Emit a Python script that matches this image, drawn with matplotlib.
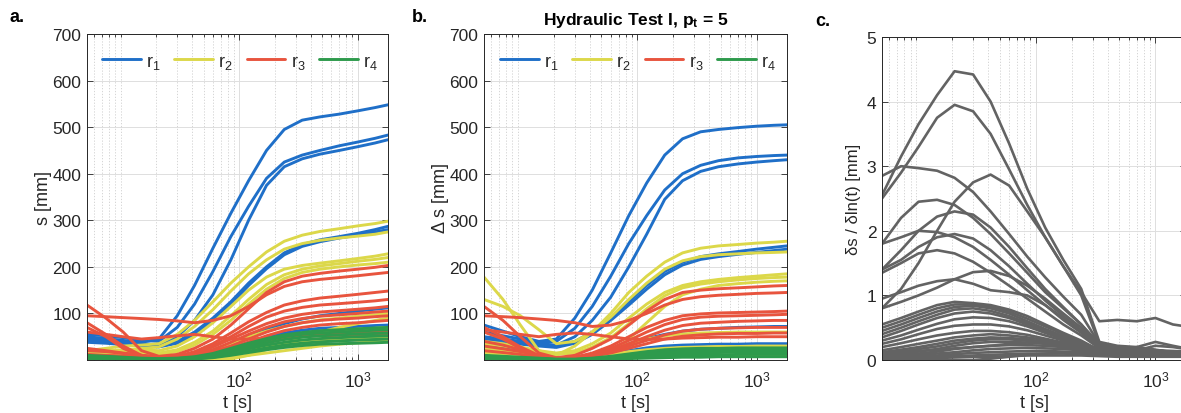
import matplotlib
matplotlib.use("Agg")
import matplotlib.pyplot as plt
from matplotlib.ticker import FixedLocator, NullFormatter, LogLocator

plt.rcParams['font.family'] = ['Liberation Sans', 'DejaVu Sans']
plt.rcParams['mathtext.fontset'] = 'custom'
plt.rcParams['mathtext.rm'] = 'Liberation Sans'
plt.rcParams['mathtext.it'] = 'Liberation Sans:italic'
plt.rcParams['mathtext.bf'] = 'Liberation Sans:bold'

# time samples [s]
t = [5.2, 7.5, 10.5, 15, 21, 30, 42, 60, 85, 120, 170, 240, 340, 480, 700, 1000, 1400, 1800]

# ---- drawdown s [mm], grouped by radial distance ----
s_r1 = [
    [50, 46, 42, 38, 45, 95, 160, 240, 315, 385, 450, 495, 515, 522, 528, 535, 542, 548],
    [55, 52, 48, 42, 40, 70, 120, 190, 265, 330, 390, 425, 440, 450, 460, 468, 476, 483],
    [45, 43, 40, 35, 32, 50, 85, 140, 215, 300, 375, 415, 432, 442, 450, 458, 466, 473],
    [42, 40, 37, 33, 30, 40, 60, 90, 125, 165, 200, 230, 248, 258, 265, 272, 280, 287],
    [38, 36, 33, 30, 28, 36, 55, 85, 120, 160, 196, 226, 244, 254, 262, 268, 275, 280],
    [12, 10, 8, 6, 5, 6, 12, 22, 35, 50, 65, 78, 88, 95, 100, 105, 109, 112],
    [8, 7, 6, 4, 3, 4, 8, 15, 25, 38, 50, 58, 64, 68, 70, 72, 74, 75],
    [5, 4, 3, 2, 2, 3, 5, 10, 16, 22, 28, 33, 37, 40, 42, 43, 44, 45],
]
s_r2 = [
    [20, 25, 30, 32, 35, 55, 85, 125, 165, 200, 232, 255, 268, 276, 282, 288, 293, 298],
    [18, 20, 22, 25, 28, 45, 72, 108, 148, 185, 215, 238, 250, 257, 262, 266, 270, 275],
    [15, 17, 20, 22, 20, 30, 50, 80, 115, 150, 178, 195, 203, 208, 213, 218, 223, 228],
    [14, 15, 16, 17, 15, 22, 38, 62, 95, 130, 162, 183, 195, 202, 207, 212, 216, 220],
    [10, 12, 14, 15, 12, 18, 32, 55, 85, 120, 152, 175, 188, 195, 200, 204, 207, 210],
    [8, 9, 10, 8, 5, 6, 12, 22, 35, 50, 62, 72, 80, 86, 90, 94, 97, 100],
    [0, 0, 0, 0, 0, 0, 0, 0, 2, 10, 22, 36, 50, 60, 70, 78, 85, 90],
    [6, 6, 5, 4, 3, 4, 8, 15, 25, 35, 45, 52, 57, 61, 64, 66, 68, 70],
    [4, 4, 3, 2, 1, 2, 4, 8, 14, 20, 27, 33, 38, 42, 45, 47, 49, 50],
    [3, 3, 2, 1, 0, 0, 1, 3, 6, 10, 15, 20, 25, 30, 34, 37, 39, 40],
]
s_r3 = [
    [118, 90, 60, 20, 8, 12, 25, 45, 75, 110, 145, 168, 180, 186, 191, 195, 199, 203],
    [95, 93, 91, 89, 87, 84, 80, 85, 95, 115, 140, 158, 168, 173, 177, 181, 185, 188],
    [80, 55, 30, 10, 5, 8, 18, 35, 58, 82, 102, 118, 127, 133, 137, 141, 145, 148],
    [70, 50, 25, 8, 4, 6, 15, 30, 50, 72, 92, 105, 113, 118, 121, 124, 127, 130],
    [25, 20, 15, 10, 6, 8, 15, 28, 45, 62, 78, 90, 98, 103, 106, 109, 112, 115],
    [20, 18, 14, 10, 6, 7, 12, 22, 38, 55, 70, 82, 89, 94, 97, 100, 103, 105],
    [12, 10, 8, 6, 4, 5, 10, 18, 30, 45, 60, 72, 80, 85, 88, 90, 93, 95],
    [10, 9, 8, 6, 4, 4, 8, 15, 26, 38, 52, 63, 70, 75, 78, 80, 83, 85],
    [8, 7, 6, 4, 3, 3, 5, 10, 18, 27, 37, 45, 51, 55, 58, 60, 61, 62],
    [60, 55, 50, 45, 48, 52, 55, 50, 45, 45, 47, 49, 51, 52, 53, 54, 55, 55],
]
s_r4 = [
    [8, 7, 5, 3, 2, 3, 6, 12, 22, 32, 42, 50, 55, 58, 60, 62, 64, 65],
    [6, 5, 4, 2, 1, 2, 5, 10, 18, 28, 37, 44, 49, 52, 54, 56, 57, 58],
    [5, 4, 3, 2, 1, 2, 4, 8, 15, 24, 32, 38, 43, 46, 48, 50, 51, 52],
    [4, 3, 2, 1, 1, 1, 3, 6, 12, 19, 26, 32, 36, 39, 41, 43, 44, 45],
    [3, 3, 2, 1, 0, 1, 2, 5, 10, 16, 22, 27, 31, 34, 35, 36, 37, 38],
    [10, 8, 6, 4, 3, 4, 7, 14, 25, 36, 46, 54, 59, 63, 65, 67, 69, 70],
]

# ---- corrected drawdown delta s [mm] ----
ds_r1 = [
    [75, 62, 50, 40, 45, 90, 150, 230, 310, 380, 440, 475, 490, 495, 499, 502, 504, 505],
    [60, 52, 45, 38, 40, 68, 115, 180, 250, 310, 365, 400, 418, 428, 434, 437, 439, 440],
    [50, 45, 40, 35, 32, 50, 85, 135, 200, 270, 345, 385, 405, 415, 421, 425, 428, 430],
    [45, 42, 38, 35, 30, 40, 60, 90, 125, 160, 190, 210, 222, 228, 233, 238, 242, 245],
    [40, 37, 34, 30, 27, 36, 55, 85, 118, 152, 183, 204, 216, 222, 227, 231, 235, 238],
    [30, 25, 18, 10, 5, 6, 12, 22, 35, 46, 55, 62, 66, 68, 70, 71, 72, 72],
    [20, 15, 10, 5, 2, 3, 6, 12, 20, 26, 30, 32, 33, 34, 34, 35, 35, 35],
    [15, 12, 8, 4, 2, 2, 4, 8, 13, 18, 21, 23, 24, 24, 25, 25, 25, 25],
]
ds_r2 = [
    [178, 130, 75, 20, 10, 30, 60, 100, 145, 180, 210, 230, 240, 245, 248, 251, 253, 255],
    [130, 115, 95, 65, 35, 40, 60, 92, 130, 165, 195, 213, 222, 226, 228, 230, 231, 232],
    [40, 35, 28, 20, 15, 20, 35, 58, 90, 120, 145, 160, 168, 173, 177, 180, 183, 185],
    [35, 30, 25, 18, 12, 15, 28, 48, 78, 110, 138, 155, 163, 168, 172, 175, 177, 178],
    [0, 0, 0, 0, 0, 0, 2, 15, 45, 80, 115, 140, 152, 160, 164, 167, 169, 170],
    [25, 20, 15, 10, 5, 6, 12, 22, 35, 45, 52, 56, 58, 59, 60, 60, 60, 60],
    [15, 12, 8, 5, 3, 3, 6, 12, 18, 22, 25, 27, 28, 29, 29, 30, 30, 30],
    [8, 6, 4, 2, 1, 1, 2, 4, 6, 8, 9, 10, 10, 10, 10, 10, 10, 10],
]
ds_r3 = [
    [115, 85, 50, 15, 5, 10, 25, 45, 75, 105, 130, 145, 150, 153, 155, 157, 159, 160],
    [95, 93, 91, 88, 85, 80, 72, 75, 85, 100, 118, 130, 136, 139, 141, 143, 144, 145],
    [70, 50, 28, 10, 4, 6, 15, 30, 50, 70, 85, 95, 99, 101, 102, 103, 104, 105],
    [60, 45, 25, 8, 3, 5, 12, 25, 42, 60, 76, 87, 92, 94, 95, 96, 97, 98],
    [40, 32, 22, 10, 4, 5, 11, 21, 35, 50, 64, 74, 79, 81, 83, 84, 85, 85],
    [30, 24, 18, 10, 4, 5, 10, 18, 30, 42, 54, 62, 66, 68, 69, 70, 70, 70],
    [20, 16, 12, 7, 3, 4, 8, 15, 25, 35, 45, 51, 54, 56, 57, 57, 58, 58],
    [65, 60, 55, 50, 55, 58, 55, 50, 45, 44, 45, 47, 48, 49, 49, 50, 50, 50],
]
ds_r4 = [
    [10, 8, 6, 4, 2, 2, 4, 8, 13, 18, 22, 24, 25, 25, 26, 26, 26, 26],
    [8, 6, 4, 3, 1, 1, 3, 6, 10, 14, 17, 19, 20, 20, 21, 21, 21, 21],
    [6, 5, 3, 2, 1, 1, 2, 4, 7, 10, 13, 15, 16, 16, 17, 17, 17, 17],
    [4, 3, 2, 1, 0, 0, 1, 3, 5, 7, 9, 10, 11, 11, 12, 12, 12, 12],
    [3, 2, 1, 1, 0, 0, 1, 2, 3, 4, 5, 6, 6, 7, 7, 7, 7, 7],
]

# ---- log-derivative ds / dln(t) [mm] ----
deriv = [
    [2.55, 3.15, 3.65, 4.10, 4.47, 4.42, 4.00, 3.35, 2.65, 2.05, 1.55, 1.10, 0.28, 0.22, 0.20, 0.16, 0.12, 0.10],
    [2.50, 2.90, 3.30, 3.75, 3.95, 3.85, 3.50, 2.95, 2.40, 1.90, 1.45, 1.00, 0.25, 0.20, 0.18, 0.15, 0.12, 0.10],
    [2.85, 3.00, 2.97, 2.93, 2.82, 2.60, 2.30, 1.95, 1.60, 1.28, 0.98, 0.70, 0.25, 0.20, 0.18, 0.15, 0.12, 0.10],
    [0.80, 1.10, 1.50, 2.00, 2.45, 2.75, 2.87, 2.70, 2.30, 1.90, 1.45, 1.05, 0.60, 0.62, 0.60, 0.65, 0.55, 0.52],
    [1.80, 2.20, 2.45, 2.48, 2.40, 2.20, 1.95, 1.65, 1.35, 1.05, 0.80, 0.55, 0.25, 0.20, 0.17, 0.15, 0.12, 0.10],
    [1.40, 1.70, 2.00, 2.22, 2.30, 2.25, 2.05, 1.75, 1.42, 1.10, 0.82, 0.55, 0.22, 0.18, 0.16, 0.14, 0.12, 0.10],
    [1.80, 1.90, 2.00, 1.98, 1.90, 1.75, 1.55, 1.32, 1.08, 0.85, 0.62, 0.42, 0.20, 0.17, 0.15, 0.13, 0.11, 0.10],
    [1.40, 1.55, 1.75, 1.90, 1.95, 1.88, 1.70, 1.45, 1.18, 0.92, 0.68, 0.46, 0.20, 0.17, 0.15, 0.13, 0.11, 0.10],
    [1.35, 1.50, 1.65, 1.70, 1.65, 1.52, 1.35, 1.15, 0.95, 0.75, 0.55, 0.38, 0.18, 0.15, 0.13, 0.12, 0.10, 0.09],
    [0.80, 0.90, 1.00, 1.12, 1.25, 1.36, 1.38, 1.30, 1.15, 0.95, 0.72, 0.50, 0.20, 0.17, 0.15, 0.13, 0.11, 0.10],
    [0.95, 1.05, 1.15, 1.22, 1.25, 1.18, 1.08, 1.05, 1.00, 0.85, 0.65, 0.45, 0.20, 0.17, 0.15, 0.13, 0.11, 0.10],
    [0.55, 0.65, 0.75, 0.85, 0.90, 0.88, 0.85, 0.78, 0.68, 0.55, 0.42, 0.30, 0.15, 0.13, 0.12, 0.11, 0.10, 0.09],
    [0.50, 0.60, 0.70, 0.80, 0.86, 0.86, 0.82, 0.75, 0.64, 0.52, 0.40, 0.28, 0.15, 0.13, 0.12, 0.11, 0.10, 0.09],
    [0.45, 0.55, 0.65, 0.75, 0.82, 0.84, 0.80, 0.72, 0.60, 0.48, 0.37, 0.26, 0.14, 0.12, 0.11, 0.10, 0.09, 0.08],
    [0.40, 0.50, 0.60, 0.70, 0.78, 0.80, 0.76, 0.68, 0.57, 0.46, 0.35, 0.25, 0.14, 0.12, 0.11, 0.10, 0.09, 0.08],
    [0.35, 0.45, 0.55, 0.65, 0.72, 0.75, 0.72, 0.65, 0.55, 0.44, 0.34, 0.24, 0.13, 0.12, 0.11, 0.10, 0.09, 0.08],
    [0.30, 0.38, 0.47, 0.56, 0.63, 0.66, 0.65, 0.60, 0.52, 0.42, 0.32, 0.23, 0.13, 0.12, 0.10, 0.09, 0.08, 0.08],
    [0.25, 0.32, 0.40, 0.48, 0.53, 0.55, 0.55, 0.52, 0.46, 0.38, 0.30, 0.22, 0.12, 0.11, 0.10, 0.09, 0.08, 0.07],
    [0.20, 0.26, 0.32, 0.38, 0.42, 0.45, 0.45, 0.43, 0.39, 0.33, 0.27, 0.20, 0.12, 0.10, 0.09, 0.09, 0.08, 0.07],
    [0.15, 0.20, 0.25, 0.30, 0.35, 0.38, 0.40, 0.38, 0.35, 0.31, 0.26, 0.20, 0.15, 0.15, 0.20, 0.28, 0.22, 0.18],
    [0.12, 0.16, 0.20, 0.25, 0.30, 0.33, 0.35, 0.34, 0.32, 0.28, 0.24, 0.19, 0.14, 0.13, 0.15, 0.22, 0.20, 0.17],
    [0.10, 0.13, 0.17, 0.21, 0.26, 0.30, 0.32, 0.32, 0.30, 0.27, 0.23, 0.19, 0.15, 0.14, 0.14, 0.15, 0.14, 0.13],
    [0.08, 0.10, 0.13, 0.17, 0.22, 0.26, 0.28, 0.28, 0.27, 0.25, 0.22, 0.18, 0.14, 0.13, 0.13, 0.13, 0.12, 0.12],
    [0.06, 0.08, 0.10, 0.13, 0.17, 0.20, 0.22, 0.23, 0.23, 0.22, 0.20, 0.17, 0.13, 0.12, 0.12, 0.12, 0.11, 0.11],
    [0.05, 0.06, 0.08, 0.10, 0.12, 0.15, 0.17, 0.18, 0.19, 0.18, 0.17, 0.15, 0.12, 0.11, 0.11, 0.10, 0.10, 0.10],
    [0.04, 0.05, 0.06, 0.07, 0.09, 0.11, 0.12, 0.13, 0.14, 0.14, 0.13, 0.12, 0.10, 0.09, 0.09, 0.09, 0.08, 0.08],
    [0.03, 0.04, 0.04, 0.05, 0.06, 0.07, 0.08, 0.09, 0.10, 0.10, 0.10, 0.09, 0.08, 0.07, 0.07, 0.07, 0.06, 0.06],
    [0.02, 0.02, 0.03, 0.03, 0.04, 0.05, 0.05, 0.06, 0.07, 0.07, 0.07, 0.07, 0.06, 0.05, 0.05, 0.05, 0.05, 0.05],
    [0.10, 0.12, 0.14, 0.16, 0.18, 0.20, 0.22, 0.25, 0.27, 0.28, 0.27, 0.24, 0.18, 0.12, 0.10, 0.09, 0.08, 0.08],
    [0.00, 0.00, 0.00, 0.00, 0.00, 0.00, 0.02, 0.05, 0.08, 0.10, 0.12, 0.12, 0.10, 0.09, 0.08, 0.08, 0.07, 0.07],
]

labels = ['r$_1$', 'r$_2$', 'r$_3$', 'r$_4$']
colors = ['#1f6fc8', '#dcd84a', '#e8543e', '#2e9a4c']
gray = '#636363'
dark = '#262626'

fig = plt.figure(figsize=(11.81, 4.14), dpi=100)
ax_a = fig.add_axes([87 / 1181, 53 / 414, 301 / 1181, 326 / 414])
ax_b = fig.add_axes([484 / 1181, 53 / 414, 303 / 1181, 326 / 414])
ax_c = fig.add_axes([882 / 1181, 53 / 414, 304 / 1181, 323 / 414])


def style_axis(ax, ylim, yticks):
    ax.set_xscale('log')
    ax.set_xlim(5.2, 1800)
    ax.set_ylim(*ylim)
    ax.set_yticks(yticks)
    ax.xaxis.set_major_locator(FixedLocator([100, 1000]))
    ax.set_xticklabels([r'$10^{2}$', r'$10^{3}$'])
    ax.xaxis.set_minor_locator(LogLocator(base=10, subs=[1, 2, 3, 4, 5, 6, 7, 8, 9], numticks=20))
    ax.xaxis.set_minor_formatter(NullFormatter())
    ax.tick_params(which='both', direction='in', top=True, right=True,
                   colors=dark, labelsize=12.5, width=0.6)
    ax.tick_params(which='major', length=4, pad=4)
    ax.tick_params(axis='x', which='major', pad=7)
    ax.tick_params(which='minor', length=2.5)
    ax.grid(True, which='major', color='#dedede', linewidth=0.7, linestyle='-')
    ax.grid(True, which='minor', axis='x', color='#cfcfcf', linewidth=0.6, linestyle=(0, (1.5, 2)))
    ax.set_axisbelow(True)
    for sp in ax.spines.values():
        sp.set_color(dark)
        sp.set_linewidth(0.7)
    ax.set_xlabel('t [s]', fontsize=13, color=dark, labelpad=3)


def draw_groups(ax, groups):
    for grp, col, lab in zip(groups, colors, labels):
        for i, series in enumerate(grp):
            ax.plot(t, series, color=col, lw=2.1, solid_capstyle='round',
                    label=lab if i == 0 else None)
    leg = ax.legend(loc='center', bbox_to_anchor=(0.508, 0.915), ncol=4, frameon=False,
                    handlelength=2.15, handletextpad=0.3, columnspacing=0.75,
                    fontsize=13)
    for txt in leg.get_texts():
        txt.set_color(dark)


# a: drawdown
style_axis(ax_a, (0, 700), range(100, 701, 100))
draw_groups(ax_a, [s_r1, s_r2, s_r3, s_r4])
ax_a.set_ylabel('s [mm]', fontsize=13, color=dark, labelpad=0)

# b: corrected drawdown
style_axis(ax_b, (0, 700), range(100, 701, 100))
draw_groups(ax_b, [ds_r1, ds_r2, ds_r3, ds_r4])
ax_b.set_ylabel('Δ s [mm]', fontsize=13, color=dark, labelpad=0)
ax_b.set_title(r'Hydraulic Test I, $\mathbf{p_t}$ = 5', fontsize=12.5, fontweight='bold',
               color='black', pad=7)

# c: log-derivative
style_axis(ax_c, (0, 5), range(0, 6))
for series in deriv:
    ax_c.plot(t, series, color=gray, lw=1.9, solid_capstyle='round')
ax_c.set_ylabel('δs / δln(t) [mm]', fontsize=12, color=dark, labelpad=4)

# panel letters
fig.text(10 / 1181, 1 - 17 / 414, 'a.', fontsize=13, fontweight='bold', va='center')
fig.text(412 / 1181, 1 - 17 / 414, 'b.', fontsize=13, fontweight='bold', va='center')
fig.text(815 / 1181, 1 - 22 / 414, 'c.', fontsize=13, fontweight='bold', va='center')

fig.savefig('out.png', dpi=100)
